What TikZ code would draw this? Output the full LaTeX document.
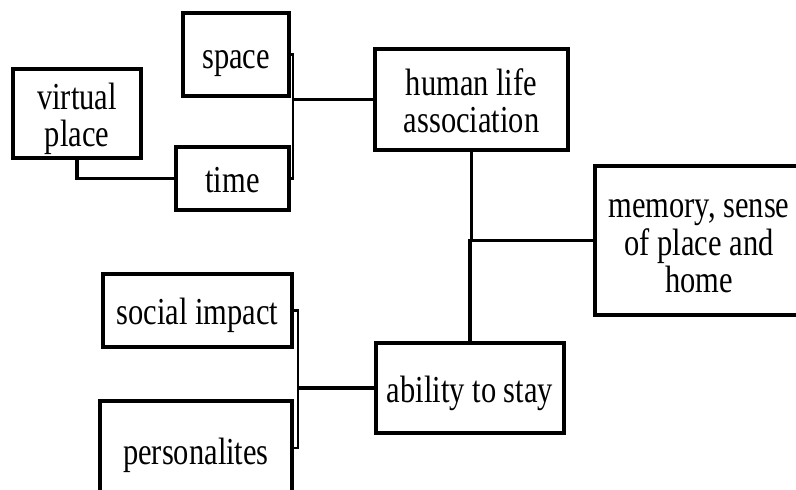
\documentclass[tikz,border=0pt]{standalone}
\usepackage{fontspec}
\setmainfont{Liberation Serif}
\usepackage{graphicx}
% the strut in the first row sets the text a little below the box centre
\newcommand{\boxtext}[1]{\scalebox{1}[1.25]{\begin{tabular}{@{}c@{}}\rule{0pt}{32pt}#1\end{tabular}}}
\begin{document}
\begin{tikzpicture}[x=1pt,y=-1pt,
  concept/.style={draw=black, line width=3.4pt, rectangle, inner sep=0pt,
    font=\fontsize{30.5}{29.6}\selectfont, align=center},
  link/.style={draw=black, line width=3.4pt},
  brace/.style={draw=black, line width=2.6pt}]
  \useasboundingbox (0,0) rectangle (796,490);
  \fill[white] (0,0) rectangle (796,490);
  \clip (0,0) rectangle (796,490);

  % concept boxes
  \node[concept, minimum width=106pt, minimum height=83pt] (space) at (236,54.5) {\boxtext{space}};
  \node[concept, minimum width=128pt, minimum height=85pt] (virtual) at (77,113.5) {\boxtext{virtual\\place}};
  \node[concept, minimum width=113pt, minimum height=63pt] (time) at (232.5,178.5) {\boxtext{time}};
  \node[concept, minimum width=193pt, minimum height=101pt] (human) at (471.5,99.5) {\boxtext{human life\\association}};
  \node[concept, minimum width=208pt, minimum height=149pt] (memory) at (699,240.5) {\boxtext{memory, sense\\of place and\\home}};
  \node[concept, minimum width=188pt, minimum height=90pt] (ability) at (470,388) {\boxtext{ability to stay}};
  \node[concept, minimum width=189pt, minimum height=73pt] (social) at (197.5,310.5) {\boxtext{social impact}};
  \node[concept, minimum width=192pt, minimum height=99pt] (person) at (196,450.5) {\boxtext{personalites}};

  % bracket joining space and time
  \coordinate (tb) at (293,0);
  \draw[brace] (space.east) -- (space.east -| tb) -- (time.east -| tb) -- (time.east);
  \draw[link] (human.west) -- (human.west -| tb);

  % virtual place to time
  \draw[link] (virtual.south) |- (time.west);

  % central spine
  \draw[link] (human.south) -- (human.south |- memory.west);
  \draw[link] (memory.west) -- (ability.north |- memory.west) -- (ability.north);

  % bracket joining social impact and personalites
  \coordinate (sb) at (298,0);
  \draw[brace] (social.east) -- (social.east -| sb) -- (sb |- 0,448) -- (person.east |- 0,448);
  \draw[link] (ability.west) -- (ability.west -| sb);
\end{tikzpicture}
\end{document}
